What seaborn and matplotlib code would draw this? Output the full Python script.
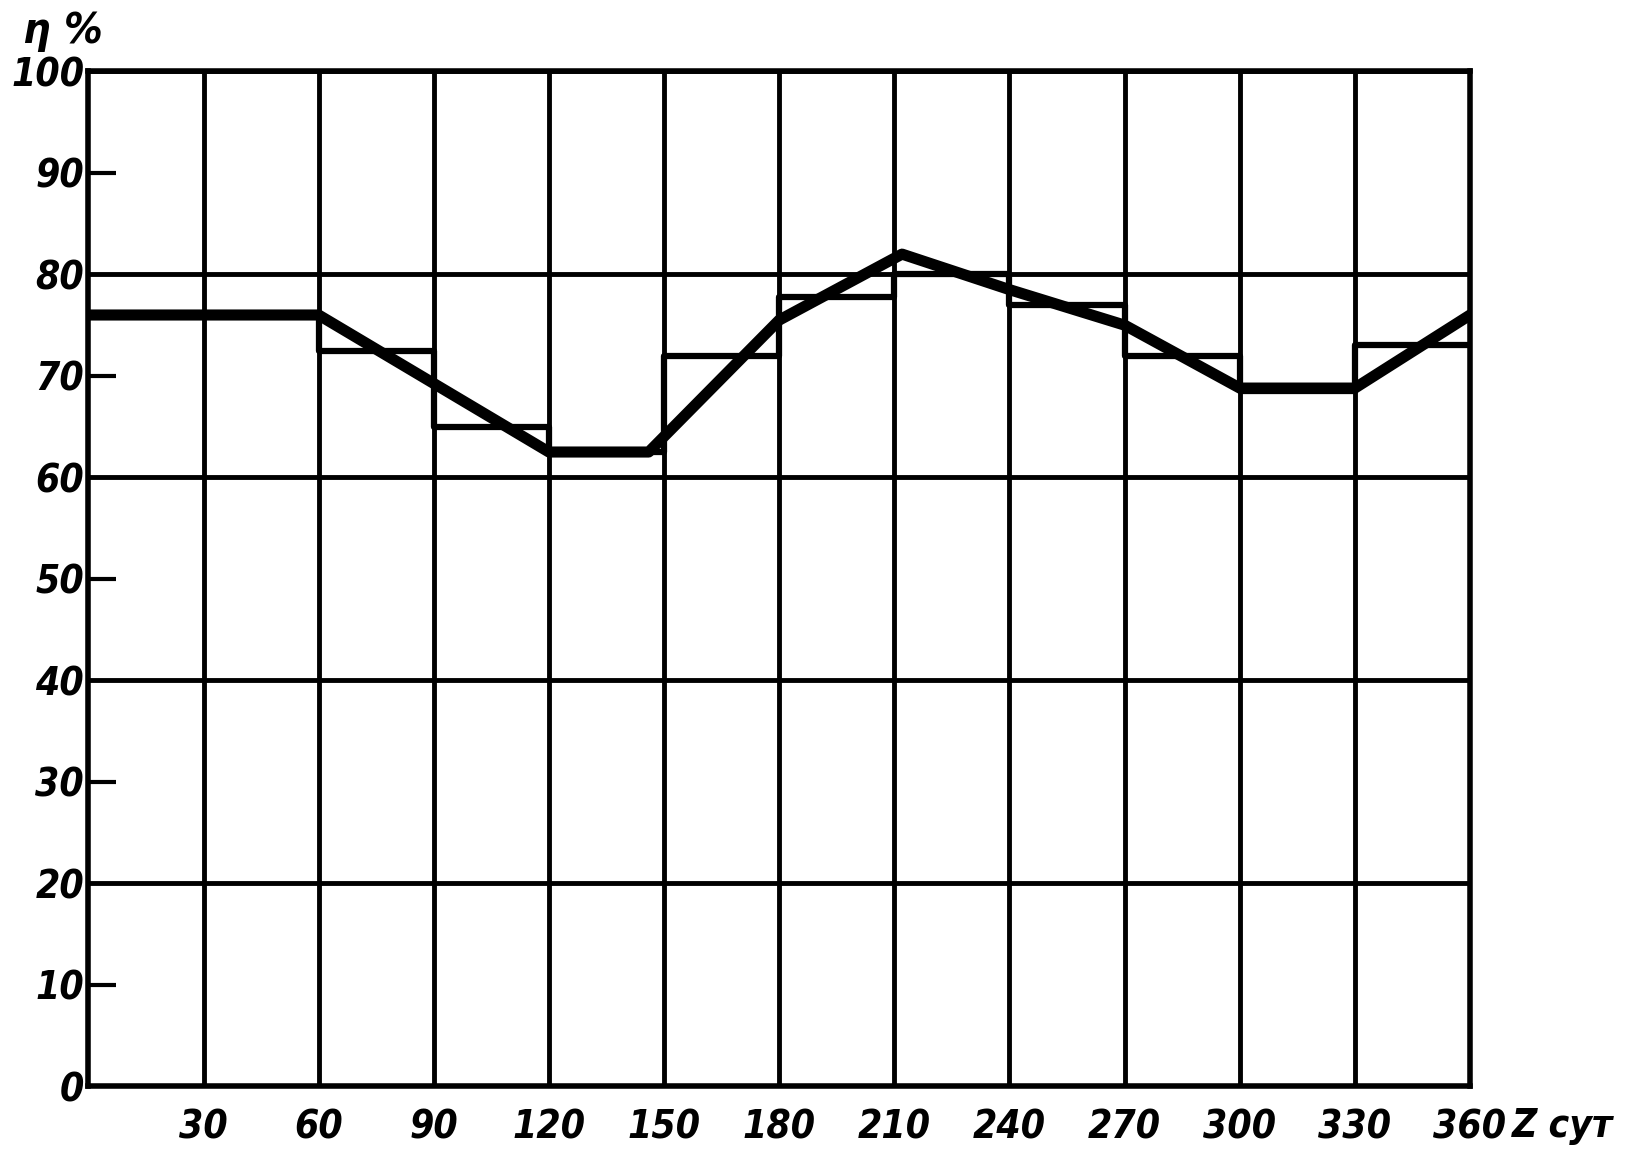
import pandas as pd
import seaborn as sns
import matplotlib.pyplot as plt
from matplotlib.ticker import FixedLocator, FixedFormatter

# step histogram: one value per 30-day bin
bin_edges = [0, 30, 60, 90, 120, 150, 180, 210, 240, 270, 300, 330, 360]
step_values = [76, 76, 72.5, 65, 62.5, 72, 77.8, 80, 77, 72, 68.5, 73]

# smoothed curve drawn over the steps
curve_x = [0, 60, 120, 146, 180, 212, 240, 270, 300, 330, 360]
curve_y = [76, 76, 62.5, 62.5, 75.5, 82, 78.5, 75, 68.8, 68.8, 76]

x_ticks = [30, 60, 90, 120, 150, 180, 210, 240, 270, 300, 330, 360]
y_major = [0, 20, 40, 60, 80, 100]
y_minor = [10, 30, 50, 70, 90]

sns.set_style("white")
plt.rcParams["text.color"] = "black"
plt.rcParams["xtick.color"] = "black"
plt.rcParams["ytick.color"] = "black"
font = dict(family="DejaVu Sans", stretch="condensed", weight="bold",
            style="italic", size=28, color="black")

steps_df = pd.DataFrame({"z": bin_edges, "eta": step_values + [step_values[-1]]})
curve_df = pd.DataFrame({"z": curve_x, "eta": curve_y})

fig = plt.figure(figsize=(16.37, 11.52), dpi=100)
ax = fig.add_axes([0.054, 0.057, 0.844, 0.881])

sns.lineplot(data=steps_df, x="z", y="eta", ax=ax, color="black", linewidth=4.5,
             drawstyle="steps-post", zorder=3)
sns.lineplot(data=curve_df, x="z", y="eta", ax=ax, color="black", linewidth=8,
             solid_joinstyle="round", solid_capstyle="round", zorder=4)

ax.set_xlim(0, 360)
ax.set_ylim(0, 100)

ax.xaxis.set_major_locator(FixedLocator(x_ticks))
ax.set_xticklabels([str(v) for v in x_ticks], fontdict=font)
ax.yaxis.set_major_locator(FixedLocator(y_major))
ax.set_yticklabels([str(v) for v in y_major], fontdict=font)
ax.yaxis.set_minor_locator(FixedLocator(y_minor))
ax.yaxis.set_minor_formatter(FixedFormatter([str(v) for v in y_minor]))
ax.set_yticklabels([str(v) for v in y_minor], fontdict=font, minor=True)

ax.tick_params(axis="x", which="major", length=0, pad=16)
ax.tick_params(axis="y", which="major", length=0, pad=3)
ax.tick_params(axis="y", which="minor", left=True, direction="in", length=20,
               width=3, color="black", pad=3)
ax.grid(True, which="major", color="black", linewidth=3.5)

for s in ax.spines.values():
    s.set_color("black")
    s.set_linewidth(4)

ax.set_xlabel("")
ax.set_ylabel("")
ax.text(1.03, -0.039, "Z сут", transform=ax.transAxes, ha="left", va="center",
        fontdict=font)
ax.text(-0.047, 1.04, "η %", transform=ax.transAxes, ha="left", va="center",
        fontdict={**font, "size": 31})

fig.savefig("out.png", dpi=100, facecolor="white")
